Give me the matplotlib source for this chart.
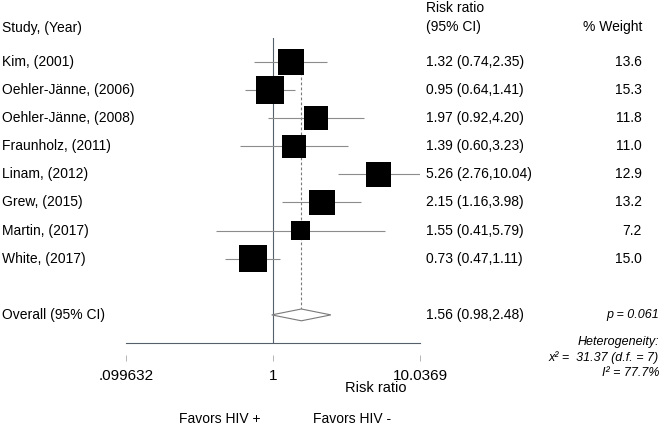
import numpy as np
import matplotlib.pyplot as plt
from matplotlib import transforms

plt.rcParams['font.family'] = ['Liberation Sans', 'DejaVu Sans']

studies = ['Kim, (2001)', 'Oehler-Jänne, (2006)', 'Oehler-Jänne, (2008)',
           'Fraunholz, (2011)', 'Linam, (2012)', 'Grew, (2015)',
           'Martin, (2017)', 'White, (2017)']
rr = np.array([1.32, 0.95, 1.97, 1.39, 5.26, 2.15, 1.55, 0.73])
lo = np.array([0.74, 0.64, 0.92, 0.60, 2.76, 1.16, 0.41, 0.47])
hi = np.array([2.35, 1.41, 4.20, 3.23, 10.04, 3.98, 5.79, 1.11])
weight = np.array([13.6, 15.3, 11.8, 11.0, 12.9, 13.2, 7.2, 15.0])
overall_rr, overall_lo, overall_hi = 1.56, 0.98, 2.48
xticks = [0.099632, 1, 10.0369]
xtick_labels = ['.099632', '1', '10.0369']

W, H = 668, 428
fig = plt.figure(figsize=(W / 100, H / 100), dpi=100)

# plot area in pixels: x 126..420, y 38..343
ax = fig.add_axes([126 / W, 1 - 343 / H, 294 / W, 305 / H])
ax.set_xscale('log')
ax.set_xlim(xticks[0], xticks[-1])
ax.set_ylim(11.0, 0.146)

y = np.arange(1, len(studies) + 1)
y_all = len(studies) + 2

ax.hlines(y, lo, hi, color='#8c8c8c', lw=0.8, zorder=2)
ax.scatter(rr, y, s=25.8 * weight, marker='s', color='black', linewidths=0, zorder=3)

# overall effect: dashed line and diamond
dh = 0.21
ax.vlines(overall_rr, 1, y_all - dh, color='#7a7a7a', lw=0.8,
          linestyles=(0, (2.5, 2)), zorder=1)
ax.fill([overall_lo, overall_rr, overall_hi, overall_rr],
        [y_all, y_all - dh, y_all, y_all + dh],
        facecolor='white', edgecolor='#7a7a7a', lw=0.8, zorder=3)

ax.axvline(1, color='#55606a', lw=0.8, zorder=1)
ax.axhline(11.0, color='#55606a', lw=0.8, clip_on=False)

for s in ['top', 'left', 'right']:
    ax.spines[s].set_visible(False)
ax.spines['bottom'].set_position(('outward', 8.6))
ax.spines['bottom'].set_visible(False)
ax.set_yticks([])
ax.set_xticks(xticks)
ax.set_xticklabels(xtick_labels, fontsize=11)
ax.minorticks_off()
ax.tick_params(axis='x', length=4.3, width=0.6, color='#aaaaaa', pad=6)

# row texts aligned on the data rows
tr = transforms.blended_transform_factory(fig.transFigure, ax.transData)
for i, name in enumerate(studies):
    ax.text(2 / W, y[i], name, transform=tr, fontsize=10, va='center')
    ax.text(426 / W, y[i], '%.2f (%.2f,%.2f)' % (rr[i], lo[i], hi[i]),
            transform=tr, fontsize=10, va='center')
    ax.text(642 / W, y[i], '%.1f' % weight[i], transform=tr, fontsize=10,
            va='center', ha='right')
ax.text(2 / W, y_all, 'Overall (95% CI)', transform=tr, fontsize=10, va='center')
ax.text(426 / W, y_all, '%.2f (%.2f,%.2f)' % (overall_rr, overall_lo, overall_hi),
        transform=tr, fontsize=10, va='center')
ax.text(659 / W, y_all, 'p = 0.061', transform=tr, fontsize=9, va='center',
        ha='right', style='italic')


def ftext(px, py, s, **kw):
    fig.text(px / W, 1 - py / H, s, va='center', **kw)


ftext(2, 28, 'Study, (Year)', fontsize=10)
ftext(426, 8, 'Risk ratio', fontsize=10)
ftext(426, 27, '(95% CI)', fontsize=10)
ftext(642, 27, '% Weight', fontsize=10, ha='right')

ftext(659, 342, 'Heterogeneity:', fontsize=9, ha='right', style='italic')
ftext(659, 358, 'x\u00b2 =  31.37 (d.f. = 7)', fontsize=9, ha='right', style='italic')
ftext(659, 373, 'I\u00b2 = 77.7%', fontsize=9, ha='right', style='italic')

ftext(376, 388, 'Risk ratio', fontsize=10.5, ha='center')
ftext(179, 419, 'Favors HIV +', fontsize=10)
ftext(313, 419, 'Favors HIV -', fontsize=10)

fig.savefig('out.png', dpi=100)
